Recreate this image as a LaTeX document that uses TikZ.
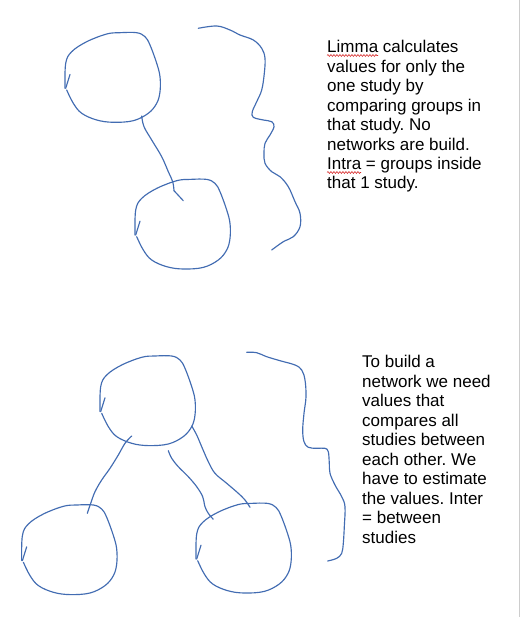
\documentclass[tikz,border=0pt]{standalone}
\usepackage{fontspec}
\setmainfont{Liberation Sans}
\frenchspacing
\usetikzlibrary{decorations.pathmorphing}
\definecolor{ink}{RGB}{66,108,178}
\definecolor{spell}{RGB}{215,40,40}
\definecolor{pageedge}{RGB}{205,205,205}
\tikzset{
  pen/.style={draw=ink, line width=1.15pt, line cap=round, line join=round},
  blob/.pic={
    \draw[pen] (70,74.5) -- (65.7,88.3);
    \draw[pen] plot[smooth, tension=0.6] coordinates {
      (65,88.3) (65.7,63.3) (71.7,51.7) (86.7,41.7) (106.7,34) (120,32.7)
      (136.7,32.7) (145,36.7) (150,45) (156.7,63.3) (160,76.7) (160,91.7)
      (156.7,103.3) (148.3,113.3) (133.3,120.7) (113.3,122.3) (96.7,120)
      (81.7,113.3) (73.3,103.3) (66.7,90)};
  },
  note/.style={font=\fontsize{17}{19.45}\selectfont, align=left, inner sep=0pt, anchor=base west},
  squiggle/.style={draw=spell, line width=0.6pt, decorate,
    decoration={snake, amplitude=0.9pt, segment length=3pt}}
}
\begin{document}
\begin{tikzpicture}[x=1pt, y=-1pt]
  \useasboundingbox (0,0) rectangle (526,617);
  \fill[white] (0,0) rectangle (526,617);
  \draw[pageedge, line width=1pt] (519,0) -- (519,617);

  % top group
  \pic at (0,0) {blob};
  \pic at (70,146.7) {blob};
  \draw[pen] plot[smooth, tension=0.6] coordinates {
    (141.7,116) (144,126.7) (151.7,140) (161.7,156.7) (168.3,171.7)
    (172.7,181.7) (174,190.7)};
  \draw[pen] (174,190.7) -- (183.3,200.7);
  \draw[pen] plot[smooth, tension=0.6] coordinates {
    (198.3,28.3) (216.7,26) (230,30) (240,35) (253.3,40) (261.7,48.3)
    (265,58.3) (264.3,73.3) (261.7,90) (256.7,101.7) (252.3,111.7)
    (253.3,117.3) (263.3,120) (271.7,121.7) (274,126.7) (270,135)
    (265,143.3) (264,153.3) (265,163.3) (271.7,171.7) (280,176.7)
    (288.3,186.7) (295,201.7) (300,213.3) (300,226.7) (293.3,236.7)
    (283.3,241.7) (271.7,250)};

  \node[note] (t1) at (327,189) {Limma calculates\\values for only the\\one study by\\comparing groups in\\that study. No\\networks are build.\\Intra = groups inside\\that 1 study.};

  % bottom group
  \pic at (35,323.3) {blob};
  \pic at (-43.3,472.3) {blob};
  \pic at (131,470.7) {blob};
  \draw[pen] plot[smooth, tension=0.6] coordinates {
    (131.7,436) (125,443.3) (118.3,455) (110,468.3) (101.7,480)
    (95,491.7) (90.7,503.3) (87.3,513.3)};
  \draw[pen] plot[smooth, tension=0.6] coordinates {
    (168.3,450.7) (171.7,458.3) (178.3,466.7) (188.3,476.7) (196.7,486.7)
    (202.7,496.7) (205,506.7) (208.3,513.3) (213.3,519.3)};
  \draw[pen] plot[smooth, tension=0.6] coordinates {
    (191.7,426) (196.7,435) (201.7,446.7) (208.3,461.7) (215,473.3)
    (226.7,483.3) (238.3,493.3) (245,500) (250,507.3)};
  \draw[pen] plot[smooth, tension=0.6] coordinates {
    (246.7,352.3) (256.7,352.7) (266.7,356.7) (280,360.7) (295,365)
    (301.7,370) (305,380) (306,396.7) (304,413.3) (302.7,430) (304,441.7)
    (308.3,447.3) (316.7,448.3) (325,448.3) (328.3,451.7) (329.3,463.3)
    (330,473.3) (335,485) (341.7,496.7) (345,506.7) (344.3,526.7)
    (343.3,543.3) (341.7,553.3) (336.7,558.3) (327.7,561)};

  \node[note] (t2) at (362,543) {To build a\\network we need\\values that\\compares all\\studies between\\each other. We\\have to estimate\\the values. Inter\\= between\\studies};

  % spell-check underlines
  \coordinate (u1a) at (327,55.5);
  \coordinate (u1b) at (378,55.5);
  \coordinate (u2a) at (327,172.5);
  \coordinate (u2b) at (361,172.5);
  \draw[squiggle] (u1a) -- (u1b);
  \draw[squiggle] (u2a) -- (u2b);
\end{tikzpicture}
\end{document}
